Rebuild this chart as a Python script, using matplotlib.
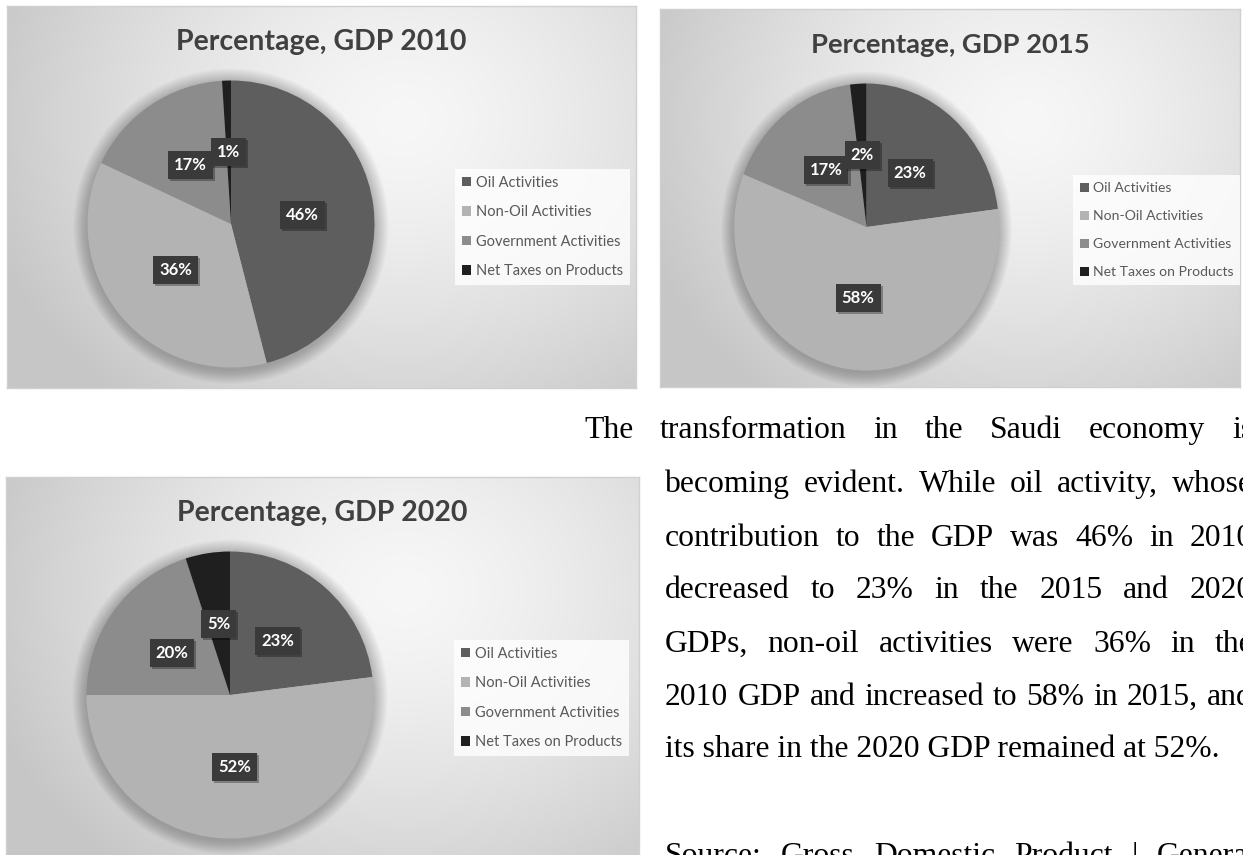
import numpy as np
import matplotlib
matplotlib.use("Agg")
import matplotlib.pyplot as plt
from matplotlib.patches import Circle, Patch
import matplotlib.patheffects as pe

# ---- data -------------------------------------------------------------
categories = ["Oil Activities", "Non-Oil Activities",
              "Government Activities", "Net Taxes on Products"]
years = ["2010", "2015", "2020"]
share_2010 = [46, 36, 17, 1]
share_2015 = [23, 58, 17, 2]
share_2020 = [23, 52, 20, 5]
slice_colors = ["#5e5e5e", "#b3b3b3", "#8c8c8c", "#1f1f1f"]

paragraph_lines = [
    "The transformation in the Saudi economy is",
    "becoming evident. While oil activity, whose",
    "contribution to the GDP was 46% in 2010",
    "decreased to 23% in the 2015 and 2020",
    "GDPs, non-oil activities were 36% in the",
    "2010 GDP and increased to 58% in 2015, and",
    "its share in the 2020 GDP remained at 52%.",
]
source_line = "Source: Gross Domestic Product | General"

# ---- canvas -----------------------------------------------------------
W, H, DPI = 1243, 855, 100
fig = plt.figure(figsize=(W / DPI, H / DPI), dpi=DPI)
fig.patch.set_facecolor("white")

SANS = "Lato"
SERIF = "Liberation Serif"


def px_axes(x0, y0, x1, y1, **kw):
    """Axes placed by pixel box measured from the top-left corner."""
    return fig.add_axes([x0 / W, 1 - y1 / H, (x1 - x0) / W, (y1 - y0) / H], **kw)


def panel_background(ax):
    ny, nx = 240, 360
    yy, xx = np.mgrid[0:1:ny * 1j, 0:1:nx * 1j]
    d = np.sqrt(((xx - 0.63) / 0.70) ** 2 + ((yy - 0.30) / 0.95) ** 2)
    d = np.clip(d, 0, 1)
    g = (247 - (247 - 198) * d ** 1.4) / 255.0
    ax.imshow(np.dstack([g, g, g]), extent=(0, 1, 0, 1), origin="upper",
              aspect="auto", zorder=0, interpolation="bilinear")
    ax.set_xlim(0, 1)
    ax.set_ylim(0, 1)
    ax.set_xticks([])
    ax.set_yticks([])
    for s in ax.spines.values():
        s.set_color("#d0d0d0")
        s.set_linewidth(1.0)


def draw_pie(ax, values):
    # soft halo under the pie
    for k in range(20):
        ax.add_patch(Circle((0.0, -0.015), 1.0 + 0.005 * (k + 1), color="black",
                            alpha=0.011, lw=0, zorder=0))
    wedges, texts, autotexts = ax.pie(
        values, colors=slice_colors, startangle=90, counterclock=False,
        autopct=lambda p: f"{p:.0f}%", pctdistance=0.5, radius=1.0,
        wedgeprops=dict(linewidth=0),
        textprops=dict(color="white", fontsize=12, fontweight="bold",
                       family=SANS))
    ax.set_aspect("auto")
    ax.set_xlim(-1.2, 1.2)
    ax.set_ylim(-1.2, 1.2)
    ax.axis("off")
    for t in autotexts:
        t.set_bbox(dict(boxstyle="square,pad=0.36", fc="#3a3a3a", ec="none"))
        t.get_bbox_patch().set_path_effects([
            pe.withSimplePatchShadow(offset=(1.5, -1.5), shadow_rgbFace="black",
                                     alpha=0.3),
            pe.Normal()])


panels = [
    dict(rect=(7, 6, 636, 388), hs=1.0, values=share_2010, year=years[0]),
    dict(rect=(660, 9, 1240, 387), hs=0.922, values=share_2015, year=years[1]),
    dict(rect=(6, 477, 639, 859), hs=1.0, values=share_2020, year=years[2]),
]

R = 143.5
for p in panels:
    x0, y0, x1, y1 = p["rect"]
    hs = p["hs"]
    pw, ph = x1 - x0, y1 - y0
    bg = px_axes(x0, y0, x1, y1, zorder=0)
    panel_background(bg)

    # title
    bg.text(0.5, 1 - 44 / ph, f"Percentage, GDP {p['year']}",
            transform=bg.transAxes, ha="center", va="baseline",
            fontsize=20.5 * (0.5 + 0.5 * hs), fontweight="bold",
            color="#404040", family=SANS, zorder=5)

    # pie
    cx, cy = x0 + 224 * hs, y0 + 218
    rx, ry = R * hs, R
    pax = px_axes(cx - 1.2 * rx, cy - 1.2 * ry, cx + 1.2 * rx, cy + 1.2 * ry,
                  zorder=2)
    pax.patch.set_alpha(0)
    draw_pie(pax, p["values"])

    # legend
    fs = 10.5 * (0.5 + 0.5 * hs)
    fpx = fs * DPI / 72
    handles = [Patch(facecolor=c, edgecolor="none", label=l)
               for c, l in zip(slice_colors, categories)]
    leg = bg.legend(handles=handles, loc="center left",
                    bbox_to_anchor=((448 * hs) / pw, 1 - 221 / ph),
                    prop=dict(family=SANS, size=fs),
                    labelcolor="#595959", handlelength=0.62, handleheight=0.62,
                    handletextpad=0.3, labelspacing=29.6 / fpx - 0.97,
                    borderpad=0.5, borderaxespad=0.0, frameon=True,
                    fancybox=False)
    fr = leg.get_frame()
    fr.set_facecolor((1, 1, 1, 0.3))
    fr.set_edgecolor("none")
    leg.set_zorder(6)

# ---- paragraph ---------------------------------------------------------
renderer = fig.canvas.get_renderer()
PFS = 22.8


def place_line(text, x0, baseline, x1=None):
    if x1 is None:
        fig.text(x0 / W, 1 - baseline / H, text, family=SERIF, fontsize=PFS,
                 color="black", ha="left", va="baseline")
        return
    words = text.split()
    objs = [fig.text(0, 1 - baseline / H, w, family=SERIF, fontsize=PFS,
                     color="black", ha="left", va="baseline") for w in words]
    widths = [o.get_window_extent(renderer).width for o in objs]
    gap = (x1 - x0 - sum(widths)) / (len(words) - 1)
    x = x0
    for o, w in zip(objs, widths):
        o.set_x(x / W)
        x += w + gap


RIGHT = 1253
baselines = [438, 492, 546, 598, 652, 705, 757]
starts = [584, 665, 665, 665, 665, 665, 665]
for i, (line, b, s) in enumerate(zip(paragraph_lines, baselines, starts)):
    last = i == len(paragraph_lines) - 1
    place_line(line, s, b, None if last else RIGHT)
place_line(source_line, 665, 864, RIGHT + 4)

fig.savefig("out.png", dpi=DPI, facecolor="white")
